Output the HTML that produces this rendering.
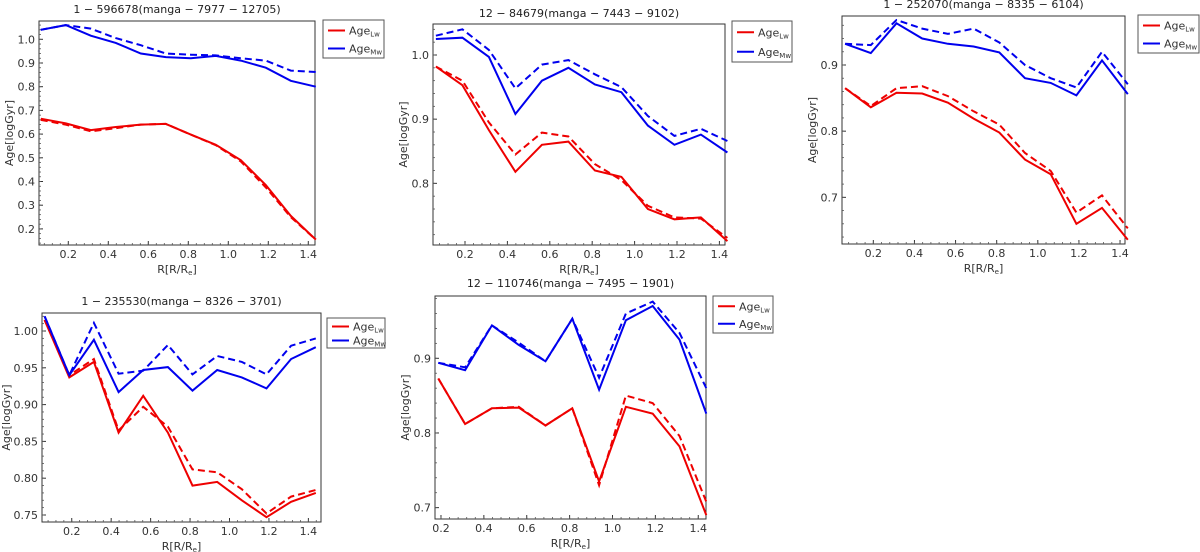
<!DOCTYPE html>
<html><head><meta charset="utf-8"><style>
body{margin:0;background:#fff;}
svg{display:block;font-family:"DejaVu Sans","Liberation Sans",sans-serif;}
</style></head><body>
<svg id="fig" width="1200" height="552" viewBox="0 0 1200 552" xmlns="http://www.w3.org/2000/svg"></svg>
<script>
// ---- data ----
const radiiFull = [0.0625,0.1875,0.3125,0.4375,0.5625,0.6875,0.8125,0.9375,1.0625,1.1875,1.3125,1.4375];
const radiiP5 = [0.1875,0.3125,0.4375,0.5625,0.6875,0.8125,0.9375,1.0625,1.1875,1.3125,1.4375];
const titles = ["1 − 596678(manga − 7977 − 12705)","12 − 84679(manga − 7443 − 9102)","1 − 252070(manga − 8335 − 6104)","1 − 235530(manga − 8326 − 3701)","12 − 110746(manga − 7495 − 1901)"];
const xTickLabels = ["0.2","0.4","0.6","0.8","1.0","1.2","1.4"];
const yTicks1 = [0.2,0.3,0.4,0.5,0.6,0.7,0.8,0.9,1.0];
const yTicks2 = [0.8,0.9,1.0];
const yTicks3 = [0.7,0.8,0.9];
const yTicks4 = [0.75,0.80,0.85,0.90,0.95,1.00];
const yTicks5 = [0.7,0.8,0.9];
const lw1 = [0.665,0.645,0.617,0.63,0.64,0.643,0.598,0.555,0.49,0.385,0.255,0.155];
const lw1d = [0.66,0.64,0.612,0.625,0.64,0.643,0.598,0.553,0.485,0.375,0.25,0.155];
const mw1 = [1.04,1.06,1.015,0.985,0.94,0.925,0.92,0.93,0.91,0.88,0.825,0.8];
const mw1d = [1.04,1.06,1.045,1.005,0.975,0.94,0.935,0.932,0.92,0.91,0.868,0.862];
const lw2 = [0.982,0.953,0.883,0.818,0.86,0.865,0.82,0.81,0.76,0.744,0.747,0.71];
const lw2d = [0.982,0.96,0.895,0.845,0.879,0.873,0.83,0.805,0.765,0.747,0.745,0.715];
const mw2 = [1.025,1.027,0.997,0.908,0.96,0.98,0.954,0.942,0.89,0.86,0.876,0.848];
const mw2d = [1.03,1.04,1.008,0.948,0.985,0.992,0.97,0.95,0.905,0.874,0.885,0.866];
const lw3 = [0.865,0.836,0.858,0.857,0.843,0.819,0.798,0.757,0.735,0.66,0.684,0.636];
const lw3d = [0.865,0.838,0.865,0.868,0.853,0.83,0.81,0.767,0.74,0.677,0.703,0.653];
const mw3 = [0.932,0.918,0.963,0.94,0.932,0.928,0.919,0.88,0.873,0.854,0.907,0.856];
const mw3d = [0.932,0.93,0.968,0.955,0.947,0.955,0.934,0.9,0.88,0.866,0.92,0.871];
const lw4 = [1.015,0.937,0.958,0.862,0.912,0.862,0.79,0.795,0.77,0.747,0.768,0.78];
const lw4d = [1.015,0.94,0.962,0.865,0.897,0.87,0.812,0.808,0.785,0.752,0.775,0.784];
const mw4 = [1.02,0.94,0.988,0.917,0.947,0.951,0.919,0.947,0.937,0.922,0.962,0.978];
const mw4d = [1.02,0.94,1.011,0.942,0.946,0.981,0.941,0.966,0.958,0.941,0.98,0.99];
const lw5 = [0.873,0.812,0.833,0.834,0.81,0.833,0.735,0.835,0.826,0.782,0.69];
const lw5d = [0.873,0.812,0.833,0.835,0.81,0.833,0.73,0.85,0.84,0.796,0.708];
const mw5 = [0.894,0.884,0.944,0.918,0.896,0.953,0.858,0.951,0.97,0.925,0.826];
const mw5d = [0.894,0.888,0.944,0.921,0.896,0.953,0.874,0.96,0.976,0.934,0.86];

// ---- layout (pixel geometry per panel) ----
const panels = [
 {L:39,R:315,T:21,B:245, x0:28.3,xs:200, yRef:1.0,yRefPx:39.3,ys:237, yDec:1, xs_:radiiFull, s:[lw1,lw1d,mw1,mw1d], yt:yTicks1, leg:[323,20,61,38], titleY:13},
 {L:433,R:725,T:24,B:245, x0:422.6,xs:212, yRef:1.0,yRefPx:55,ys:641.7, yDec:1, xs_:radiiFull, s:[lw2,lw2d,mw2,mw2d], yt:yTicks2, leg:[732,21,60,41], titleY:17},
 {L:842,R:1125,T:16,B:244, x0:832.2,xs:205.6, yRef:0.9,yRefPx:65,ys:661.7, yDec:1, xs_:radiiFull, s:[lw3,lw3d,mw3,mw3d], yt:yTicks3, leg:[1138,15,61,38], titleY:8},
 {L:42,R:321,T:313,B:522, x0:32.3,xs:197.2, yRef:1.0,yRefPx:331,ys:736, yDec:2, xs_:radiiFull, s:[lw4,lw4d,mw4,mw4d], yt:yTicks4, leg:[327,318,58,30], titleY:305},
 {L:435,R:706,T:296,B:519, x0:398.1,xs:214.4, yRef:0.9,yRefPx:358.3,ys:746.7, yDec:1, xs_:radiiP5, s:[lw5,lw5d,mw5,mw5d], yt:yTicks5, leg:[713,296,60,37], titleY:287}
];
const NS='http://www.w3.org/2000/svg';
const svg=document.getElementById('fig');
function mk(tag,attrs,parent){const e=document.createElementNS(NS,tag);for(const k in attrs)e.setAttribute(k,attrs[k]);(parent||svg).appendChild(e);return e;}

panels.forEach((p,pi)=>{
 const g=mk('g',{});
 
 
 const X=v=>p.x0+v*p.xs;
 const Y=v=>p.yRefPx-(v-p.yRef)*p.ys;
 // frame
 const fr=mk('rect',{x:p.L,y:p.T,width:p.R-p.L,height:p.B-p.T,fill:'none',stroke:'#333','stroke-width':1},g);
 
 
 // x ticks
 xTickLabels.forEach(lab=>{
  const v=parseFloat(lab),x=X(v);
  if(x<p.L||x>p.R)return;
  mk('line',{x1:x,x2:x,y1:p.B,y2:p.B-4,stroke:'#333'},g);
  const t=mk('text',{x:x,y:p.B+13,'font-size':11,'text-anchor':'middle',fill:'#333'},g);
  t.textContent=lab;
  
  
 });
 for(let v=0;v<=1.6;v+=0.04){const x=X(v);if(x>p.L+1&&x<p.R-1)mk('line',{x1:x,x2:x,y1:p.B,y2:p.B-2,stroke:'#555','stroke-width':0.8},g);}
 // y ticks
 p.yt.forEach(v=>{
  const y=Y(v);
  mk('line',{x1:p.L,x2:p.L+4,y1:y,y2:y,stroke:'#333'},g);
  const t=mk('text',{x:p.L-4,y:y+4,'font-size':11,'text-anchor':'end',fill:'#333'},g);
  t.textContent=v.toFixed(p.yDec);
  
  
 });
 const step=(p.yt[1]-p.yt[0])/5;
 for(let v=p.yt[0]-10*step;v<=p.yt[p.yt.length-1]+10*step;v+=step){const y=Y(v);if(y>p.T+1&&y<p.B-1)mk('line',{x1:p.L,x2:p.L+2,y1:y,y2:y,stroke:'#555','stroke-width':0.8},g);}
 // labels
 const tt=mk('text',{x:(p.L+p.R)/2,y:p.titleY,'font-size':11,'text-anchor':'middle',fill:'#222'},g);
 tt.textContent=titles[pi];
 
 
 const xl=mk('text',{x:(p.L+p.R)/2,y:p.B+28,'font-size':11,'text-anchor':'middle',fill:'#333'},g);
 xl.innerHTML='R[R/R<tspan font-size="7" dy="2">e</tspan><tspan dy="-2">]</tspan>';
 
 
 const yl=mk('text',{x:0,y:0,'font-size':11,'text-anchor':'middle',fill:'#333',transform:`translate(${p.L-(p.yDec==2?32:26)},${(p.T+p.B)/2}) rotate(-90)`},g);
 yl.textContent='Age[logGyr]';
 
 
 // series
 const cols=['#ee0000','#ee0000','#0000ee','#0000ee'];
 const names=['age-lw-solid','age-lw-dashed','age-mw-solid','age-mw-dashed'];
 p.s.forEach((arr,si)=>{
  const pts=arr.map((v,i)=>X(p.xs_[i]).toFixed(1)+','+Y(v).toFixed(1)).join(' ');
  const pl=mk('polyline',{points:pts,fill:'none',stroke:cols[si],'stroke-width':2,'stroke-linejoin':'miter'},g);
  if(si%2==1)pl.setAttribute('stroke-dasharray','7,4');
  
  
 });
 // legend
 const [lx,ly,lwid,lh]=p.leg;
 const lg=mk('g',{},g);
 
 
 mk('rect',{x:lx,y:ly,width:lwid,height:lh,fill:'#fff',stroke:'#555'},lg);
 [['Lw','#ee0000'],['Mw','#0000ee']].forEach((e,ei)=>{
  const yy=ly+lh*(ei+0.5)/2+ (ei==0?1:0);
  mk('line',{x1:lx+5,x2:lx+22,y1:yy,y2:yy,stroke:e[1],'stroke-width':2},lg);
  const t=mk('text',{x:lx+26,y:yy+4,'font-size':11,fill:'#333'},lg);
  t.innerHTML='Age<tspan font-size="7" dy="2">'+e[0]+'</tspan>';
  
  
 });
});
</script>
</body></html>
